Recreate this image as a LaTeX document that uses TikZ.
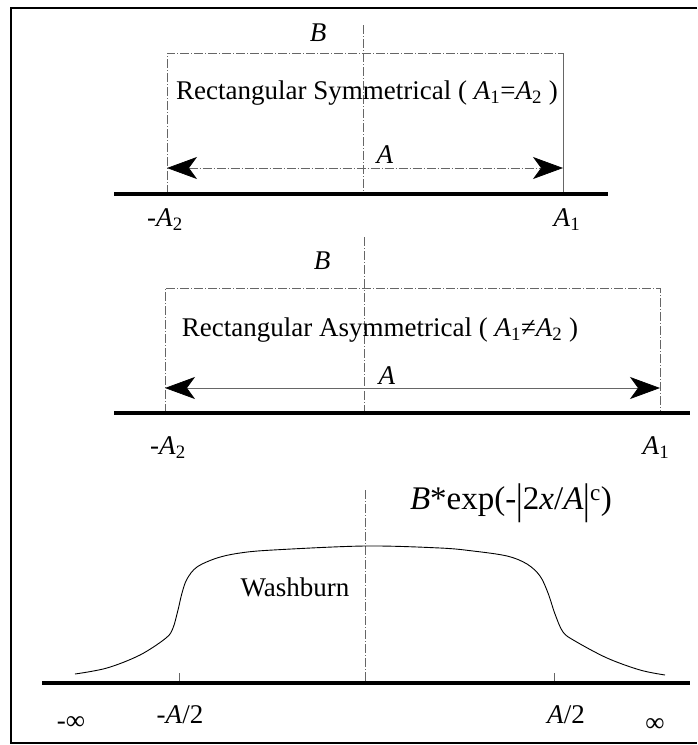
\documentclass[tikz,border=0pt]{standalone}
\usepackage{fontspec}
\setmainfont{Liberation Serif}
\usetikzlibrary{arrows.meta}
\newcommand{\wbbar}{\raisebox{-0.1em}{\scalebox{1}[1.3]{|}}}
\tikzset{
  prof/frame/.style={draw=black, line width=2.5pt},
  prof/base/.style={draw=black, line width=4pt},
  prof/guide/.style={draw=black!60, line width=0.7pt, dash pattern=on 9pt off 2pt on 1pt off 2pt},
  prof/edge/.style={draw=black!60, line width=0.7pt},
  prof/dim/.style={{Stealth[length=30pt,width=22pt,inset=8pt,color=black]}-{Stealth[length=30pt,width=22pt,inset=8pt,color=black]}, draw=black!60, line width=0.7pt},
  prof/curve/.style={draw=black, line width=0.9pt},
  prof/label/.style={font=\fontsize{27}{32}\selectfont, inner sep=0pt},
  prof/formula/.style={font=\fontsize{33}{38}\selectfont, inner sep=0pt}
}

\begin{document}
\begin{tikzpicture}[x=1pt,y=-1pt]
  \useasboundingbox (0,0) rectangle (697,745);
  \draw[prof/frame] (697,8) -- (11,8) -- (11,743) -- (697,743);

  % symmetrical rectangle
  \coordinate (symBL) at (167,194);
  \coordinate (symBR) at (563,194);
  \coordinate (symTL) at (167,53);
  \coordinate (symTR) at (563,53);
  \coordinate (symAL) at (167,168);
  \coordinate (symAR) at (563,168);
  \coordinate (symCT) at (363,25);
  \coordinate (symCB) at (363,194);
  \coordinate (symX0) at (114,194);
  \coordinate (symX1) at (608,194);
  \draw[prof/guide] (symBL) -- (symTL) -- (symTR);
  \draw[prof/edge] (symTR) -- (symBR);
  \draw[prof/guide] (symCT) -- (symCB);
  \draw[prof/dim, prof/guide] (symAL) -- (symAR);
  \draw[prof/base] (symX0) -- (symX1);
  \node[prof/label] (symB) at (318,33) {\textit{B}};
  \node[prof/label] (symTxt) at (367,93) {Rectangular Symmetrical ( \textit{A}\textsubscript{1}=\textit{A}\textsubscript{2} )};
  \node[prof/label] (symA) at (385,155) {\textit{A}};
  \node[prof/label] (symLo) at (165,220) {-\textit{A}\textsubscript{2}};
  \node[prof/label] (symHi) at (567,220) {\textit{A}\textsubscript{1}};

  % asymmetrical rectangle
  \coordinate (asyBL) at (165,413);
  \coordinate (asyBR) at (660,413);
  \coordinate (asyTL) at (165,288);
  \coordinate (asyTR) at (660,288);
  \coordinate (asyAL) at (165,388);
  \coordinate (asyAR) at (660,388);
  \coordinate (asyCT) at (364,237);
  \coordinate (asyCB) at (364,413);
  \coordinate (asyX0) at (114,413);
  \coordinate (asyX1) at (690,413);
  \draw[prof/guide] (asyBL) -- (asyTL) -- (asyTR) -- (asyBR);
  \draw[prof/guide] (asyCT) -- (asyCB);
  \draw[prof/dim] (asyAL) -- (asyAR);
  \draw[prof/base] (asyX0) -- (asyX1);
  \node[prof/label] (asyB) at (322,261) {\textit{B}};
  \node[prof/label] (asyTxt) at (380,330) {Rectangular Asymmetrical ( \textit{A}\textsubscript{1}≠\textit{A}\textsubscript{2} )};
  \node[prof/label] (asyA) at (387,376) {\textit{A}};
  \node[prof/label] (asyLo) at (168,448) {-\textit{A}\textsubscript{2}};
  \node[prof/label] (asyHi) at (656,448) {\textit{A}\textsubscript{1}};

  % washburn profile
  \coordinate (wbCT) at (365,490);
  \coordinate (wbCB) at (365,683);
  \coordinate (wbX0) at (42,683);
  \coordinate (wbX1) at (690,683);
  \coordinate (wbTL) at (179,673);
  \coordinate (wbTLb) at (179,683);
  \coordinate (wbTR) at (554,673);
  \coordinate (wbTRb) at (554,683);
  \draw[prof/guide] (wbCT) -- (wbCB);
  \draw[prof/edge] (wbTL) -- (wbTLb);
  \draw[prof/edge] (wbTR) -- (wbTRb);
  \draw[prof/curve] plot[smooth, tension=0.55] coordinates {
    (75,674) (107,668) (140,655) (166,638) (173,628) (178,610) (182,593)
    (187,579) (197,567) (217,558) (240,553) (273,550) (365,546)
    (440,548) (473,551) (507,556) (527,564) (540,576) (548,593)
    (555,614) (563,632) (575,641) (607,658) (640,670) (665,675)};
  \draw[prof/base] (wbX0) -- (wbX1);
  \node[prof/formula] (wbFn) at (511,503) {\textit{B}*exp(-\wbbar2\textit{x}/\textit{A}\wbbar\textsuperscript{c})};
  \node[prof/label] (wbName) at (295,587) {Washburn};
  \node[prof/label] (wbLo) at (180,715) {-\textit{A}/2};
  \node[prof/label] (wbHi) at (566,715) {\textit{A}/2};
  \node[prof/label] (wbInf0) at (71,723) {-∞};
  \node[prof/label] (wbInf1) at (655,725) {∞};
\end{tikzpicture}
\end{document}
